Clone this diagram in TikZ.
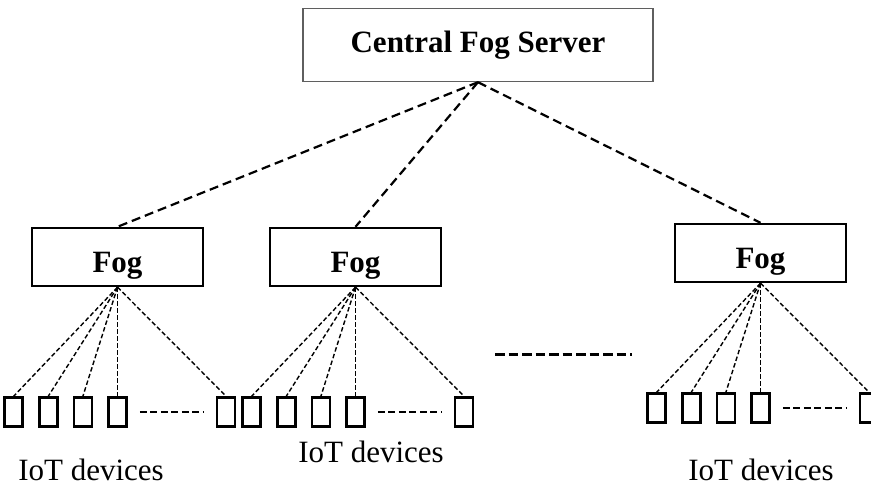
\documentclass[tikz,border=0pt]{standalone}
\usepackage{fontspec}
\setmainfont{Liberation Serif}
\usetikzlibrary{positioning}
\definecolor{srvgray}{RGB}{95,95,95}

\begin{document}
\begin{tikzpicture}[x=1pt,y=1pt,node distance=14pt]
\tikzstyle{srv}=[draw=srvgray,line width=1.4pt,minimum width=350pt,minimum height=73pt,inner sep=0pt,font=\fontsize{31}{36}\selectfont\bfseries]
\tikzstyle{fog}=[draw,line width=2.4pt,minimum width=171pt,minimum height=58pt,inner sep=0pt,text height=32pt,text depth=0pt,font=\fontsize{31}{36}\selectfont\bfseries]
\tikzstyle{dev}=[draw,line width=2.6pt,minimum width=18pt,minimum height=29pt,inner sep=0pt]
\tikzstyle{uplink}=[line width=2.2pt,dash pattern=on 9pt off 5pt]
\tikzstyle{downlink}=[line width=1.4pt,dash pattern=on 4.5pt off 2.5pt]
\tikzstyle{more}=[line width=2.4pt,dash pattern=on 7pt off 3.5pt,shorten <=12pt,shorten >=12pt]
\tikzstyle{lbl}=[anchor=base,inner sep=0pt,font=\fontsize{31}{36}\selectfont]
\useasboundingbox (0,0) rectangle (871,-486);
% server and fog layer
\node[srv] (s) at (478,-45) {Central Fog Server};
\node[fog] (f1) at (117.5,-257) {Fog};
\node[fog] (f2) at (355.5,-257) {Fog};
\node[fog] (f3) at (760.5,-253) {Fog};
\foreach \g in {1,2,3} \draw[uplink] (s.south)--(f\g.north);
% devices under each fog node
\foreach \g in {1,2,3}{
  \node[dev,below=109pt of f\g] (d\g4) {};
  \node[dev,left=of d\g4] (d\g3) {};
  \node[dev,left=of d\g3] (d\g2) {};
  \node[dev,left=of d\g2] (d\g1) {};
  \node[dev,right=88pt of d\g4] (d\g5) {};
  \foreach \k in {1,...,5} \draw[downlink] (f\g.south)--(d\g\k.north);
  \draw[more] (d\g4)--(d\g5);
}
\draw[line width=3pt,dash pattern=on 9.5pt off 4pt] (495,-355)--(632,-355);
\node[lbl] (l1) at (91,-480) {IoT devices};
\node[lbl] (l2) at (371,-463) {IoT devices};
\node[lbl] (l3) at (761,-481) {IoT devices};
\end{tikzpicture}
\end{document}
